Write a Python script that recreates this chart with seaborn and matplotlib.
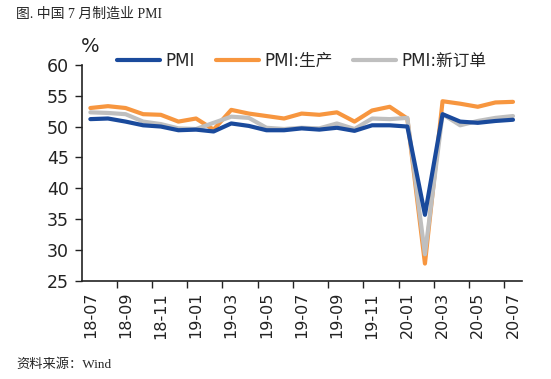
import matplotlib
matplotlib.use("Agg")
import matplotlib.pyplot as plt
import seaborn as sns
import pandas as pd
import numpy as np
from matplotlib.lines import Line2D

months = ["18-07","18-08","18-09","18-10","18-11","18-12","19-01","19-02","19-03","19-04",
          "19-05","19-06","19-07","19-08","19-09","19-10","19-11","19-12","20-01","20-02",
          "20-03","20-04","20-05","20-06","20-07"]
pmi = [51.2,51.3,50.8,50.2,50.0,49.4,49.5,49.2,50.5,50.1,49.4,49.4,49.7,49.5,49.8,49.3,
       50.2,50.2,50.0,35.7,52.0,50.8,50.6,50.9,51.1]
production = [53.0,53.3,53.0,52.0,51.9,50.8,51.3,49.5,52.7,52.1,51.7,51.3,52.1,51.9,52.3,50.8,
              52.6,53.2,51.3,27.8,54.1,53.7,53.2,53.9,54.0]
new_orders = [52.3,52.2,52.0,50.8,50.4,49.7,49.6,50.6,51.6,51.4,49.8,49.6,49.8,49.7,50.5,49.6,
              51.3,51.2,51.4,29.3,52.0,50.2,50.9,51.4,51.7]
series_names = ["PMI", "PMI:生产", "PMI:新订单"]
colors = ["#1A4A9C", "#F7963F", "#BFBFBF"]
yticks = [25, 30, 35, 40, 45, 50, 55, 60]

sns.set_style("white")
plt.rcParams['font.family'] = ['DejaVu Sans', 'Noto Sans CJK SC']

df = pd.DataFrame({
    "idx": list(range(len(months))) * 3,
    "value": pmi + production + new_orders,
    "series": sum([[n] * len(months) for n in series_names], []),
})

fig = plt.figure(figsize=(5.51, 3.79), dpi=100)
ax = fig.add_axes([0.148, 0.259, 0.799, 0.570])
sns.lineplot(data=df, x="idx", y="value", hue="series", hue_order=series_names,
             palette=colors, linewidth=3, ax=ax, legend=False)
zorders = {series_names[0]: 5, series_names[1]: 3, series_names[2]: 4}
for line, name in zip(ax.get_lines(), series_names):
    line.set_zorder(zorders[name])

ax.set_xlim(-0.5, len(months) - 0.5)
ax.set_ylim(25, 60)
ax.set_yticks(yticks)
ax.set_yticklabels([str(v) for v in yticks], fontsize=12.5, color="#222222")
ax.tick_params(axis="y", direction="out", length=5, width=1, color="#222222", pad=4, left=True)

label_pos = list(range(0, len(months), 2))
ax.set_xticks(label_pos)
ax.set_xticklabels([months[i] for i in label_pos], rotation=90, fontsize=11.5, color="#222222")
ax.tick_params(axis="x", which="major", length=0, pad=8)
ax.set_xticks(np.arange(1.5, len(months) - 1, 2), minor=True)
ax.tick_params(axis="x", which="minor", direction="out", length=5, width=1, color="#222222", bottom=True)

for s in ["top", "right"]:
    ax.spines[s].set_visible(False)
for s in ["left", "bottom"]:
    ax.spines[s].set_color("#222222")
    ax.spines[s].set_linewidth(1.2)
ax.set_xlabel("")
ax.set_ylabel("")

handles = [Line2D([], [], color=c, linewidth=3) for c in colors]
fig.legend(handles, series_names, loc="center left", bbox_to_anchor=(117 / 551, 1 - 61 / 379),
           ncol=3, frameon=False, fontsize=12, handlelength=2.6, handletextpad=0.3,
           columnspacing=1.25, borderaxespad=0, borderpad=0)

fig.text(81 / 551, 1 - 46 / 379, "%", fontsize=14, color="#222222", ha="left", va="center")
fig.text(16 / 551, 1 - 14 / 379, "图. 中国 7 月制造业 PMI", fontsize=10,
         family=["Liberation Serif", "Noto Sans CJK SC"], ha="left", va="center")
fig.text(16 / 551, 1 - 365 / 379, "资料来源：Wind", fontsize=9.5,
         family=["Liberation Serif", "Noto Sans CJK SC"], ha="left", va="center")

fig.savefig("out.png", dpi=100)
